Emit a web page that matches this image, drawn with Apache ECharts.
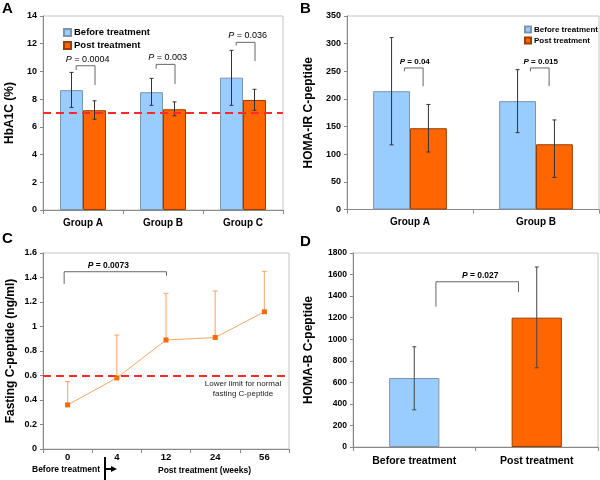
<!DOCTYPE html>
<html><head><meta charset="utf-8">
<script src="https://cdn.jsdelivr.net/npm/echarts@6/dist/echarts.min.js"></script>
<style>html,body{margin:0;padding:0;background:#fff}#c{width:600px;height:480px}</style>
</head><body><div id="c"></div>
<script>
// ---------- Panel A: HbA1C ----------
const groupsA = ['Group A', 'Group B', 'Group C'];
const hbBefore = [8.65, 8.5, 9.55];
const hbBeforeLow = [7.4, 7.55, 7.55];
const hbBeforeHigh = [9.93, 9.5, 11.52];
const hbPost = [7.2, 7.27, 7.94];
const hbPostLow = [6.55, 6.8, 7.2];
const hbPostHigh = [7.88, 7.8, 8.71];
const hbTarget = 7;
const hbPLabels = ['0.0004', '0.003', '0.036'];
const hbBracketTop = [10.41, 10.51, 12.1];
const hbBracketLeftEnd = [10.1, 10.2, 11.86];
const hbBracketRightEnd = [9.02, 9.1, 10.75];

// ---------- Panel B: HOMA-IR ----------
const groupsB = ['Group A', 'Group B'];
const irBefore = [214, 196];
const irBeforeLow = [117, 139];
const irBeforeHigh = [311, 253];
const irPost = [147, 118];
const irPostLow = [104, 58];
const irPostHigh = [190, 162];
const irPLabels = ['0.04', '0.015'];
const irBracketTop = [256, 256];
const irBracketLeftEnd = [250, 250];
const irBracketRightEnd = [223, 223];

// ---------- Panel C: fasting C-peptide ----------
const weeks = ['0', '4', '12', '24', '56'];
const cpep = [0.36, 0.58, 0.89, 0.91, 1.12];
const cpepHigh = [0.55, 0.93, 1.27, 1.29, 1.45];
const cpepLimit = 0.6;
const cpepPLabel = '0.0073';
const cpepBracket = [0, 2, 1.447, 1.347, 1.415]; // from cat, to cat, top, left end, right end

// ---------- Panel D: HOMA-B ----------
const phasesD = ['Before treatment', 'Post treatment'];
const homaB = [640, 1200];
const homaBLow = [345, 735];
const homaBHigh = [930, 1670];
const homaBPLabel = '0.027';
const homaBBracket = [0, 1, 1533, 1303, 1437];

// ---------- styles ----------
const FONT = 'Liberation Sans, Arial, sans-serif';
const BLUE = '#99CCFF', BLUE_B = '#8193aa';
const ORANGE = '#FF6600', ORANGE_B = '#9a3d00';
const AXIS = '#888';

function errSeries(xi, lows, highs, shift, cap, color, width, bottomCap) {
  return {
    type: 'custom', xAxisIndex: xi, yAxisIndex: xi, z: 5, silent: true,
    data: lows.map((l, i) => [i, l, highs[i]]),
    encode: { x: 0, y: [1, 2] },
    renderItem: function (params, api) {
      const band = api.size([1, 0])[0];
      const x = api.coord([api.value(0), 0])[0] + shift * band;
      const yl = api.coord([api.value(0), api.value(1)])[1];
      const yh = api.coord([api.value(0), api.value(2)])[1];
      const st = { stroke: color, lineWidth: width };
      const ch = [
        { type: 'line', shape: { x1: x, y1: yl, x2: x, y2: yh }, style: st },
        { type: 'line', shape: { x1: x - cap, y1: yh, x2: x + cap, y2: yh }, style: st }
      ];
      if (bottomCap) ch.push({ type: 'line', shape: { x1: x - cap, y1: yl, x2: x + cap, y2: yl }, style: st });
      return { type: 'group', children: ch };
    }
  };
}

function bracketSeries(xi, rows, labels, offL, offR, labelDx, bold, fs) {
  return {
    type: 'custom', xAxisIndex: xi, yAxisIndex: xi, z: 6, silent: true,
    data: rows,
    encode: { x: [0, 1], y: [2, 3, 4] },
    renderItem: function (params, api) {
      const band = api.size([1, 0])[0];
      const xL = api.coord([api.value(0), 0])[0] + offL * band;
      const xR = api.coord([api.value(1), 0])[0] + offR * band;
      const yT = api.coord([0, api.value(2)])[1];
      const yLE = api.coord([0, api.value(3)])[1];
      const yRE = api.coord([0, api.value(4)])[1];
      const w = bold ? 'bold' : 'normal';
      return {
        type: 'group', children: [
          { type: 'polyline', shape: { points: [[xL, yLE], [xL, yT], [xR, yT], [xR, yRE]] },
            style: { stroke: '#666', lineWidth: 1, fill: null } },
          { type: 'text', style: {
              text: '{i|P} = ' + labels[params.dataIndex],
              x: (xL + xR) / 2 + labelDx, y: yT - 2,
              align: 'center', verticalAlign: 'bottom',
              fontSize: fs, fontFamily: FONT, fontWeight: w, fill: '#000',
              rich: { i: { fontStyle: 'italic', fontSize: fs, fontFamily: FONT, fontWeight: w, fill: '#000' } }
            } }
        ]
      };
    }
  };
}

function yAx(gi, min, max, interval, name, gap, fs) {
  return {
    type: 'value', gridIndex: gi, min: min, max: max, interval: interval,
    name: name, nameLocation: 'middle', nameGap: gap,
    nameTextStyle: { fontSize: 12, fontWeight: 'bold', fontFamily: FONT, color: '#000' },
    axisLine: { show: true, lineStyle: { color: AXIS } },
    axisTick: { show: true, length: 3, lineStyle: { color: AXIS } },
    splitLine: { show: false },
    axisLabel: { fontSize: fs, fontWeight: 'bold', fontFamily: FONT, color: '#000', margin: 6,
      formatter: function (v) { return String(Math.round(v * 1000) / 1000); } }
  };
}
function xAx(gi, cats, fs, margin) {
  return {
    type: 'category', gridIndex: gi, data: cats,
    axisLine: { lineStyle: { color: AXIS } },
    axisTick: { show: true, length: 4, alignWithLabel: false, lineStyle: { color: AXIS } },
    axisLabel: { fontSize: fs, fontWeight: 'bold', fontFamily: FONT, color: '#000', margin: margin, interval: 0 }
  };
}
const gridStyle = { show: true, borderColor: '#c4c4c4', borderWidth: 1, containLabel: false };
const dashed = { color: '#ff2a2a', type: [8, 5], width: 2 };

const barShiftA = 0.575 / 4, barShiftB = 0.585 / 4;

const chart = echarts.init(document.getElementById('c'), null, { renderer: 'canvas' });
chart.setOption({
  animation: false,
  grid: [
    Object.assign({ left: 43, top: 16, width: 240, height: 194 }, gridStyle),
    Object.assign({ left: 347, top: 16, width: 252, height: 193.5 }, gridStyle),
    Object.assign({ left: 43, top: 253, width: 246, height: 196 }, gridStyle),
    Object.assign({ left: 353, top: 253, width: 245, height: 194 }, gridStyle)
  ],
  xAxis: [
    xAx(0, groupsA, 10, 8),
    xAx(1, groupsB, 10, 8),
    xAx(2, weeks, 9.5, 3),
    xAx(3, phasesD, 10.5, 9)
  ],
  yAxis: [
    yAx(0, 0, 14, 2, 'HbA1C (%)', 27, 9),
    yAx(1, 0, 350, 50, 'HOMA-IR C-peptide', 32, 9),
    yAx(2, 0, 1.6, 0.2, 'Fasting C-peptide (ng/ml)', 26, 9),
    yAx(3, 0, 1800, 200, 'HOMA-B C-peptide', 38, 8.5)
  ],
  legend: [
    { data: ['Before treatment', 'Post treatment'], orient: 'vertical', left: 58, top: 22,
      itemWidth: 7, itemHeight: 7, itemGap: 2, icon: 'rect',
      textStyle: { fontSize: 9.5, fontWeight: 'bold', fontFamily: FONT, color: '#000', lineHeight: 11, padding: [0, 0, 0, -2] } },
    { data: ['Before treatment', 'Post treatment'], orient: 'vertical', left: 519, top: 20,
      itemWidth: 6, itemHeight: 6, itemGap: 2, icon: 'rect',
      textStyle: { fontSize: 8, fontWeight: 'bold', fontFamily: FONT, color: '#000', lineHeight: 9, padding: [0, 0, 0, -2] } }
  ],
  graphic: [
    { type: 'text', left: 2, top: 1, style: { text: 'A', fontSize: 15, fontWeight: 'bold', fontFamily: FONT, fill: '#000' } },
    { type: 'text', left: 300, top: 1, style: { text: 'B', fontSize: 15, fontWeight: 'bold', fontFamily: FONT, fill: '#000' } },
    { type: 'text', left: 2, top: 231, style: { text: 'C', fontSize: 15, fontWeight: 'bold', fontFamily: FONT, fill: '#000' } },
    { type: 'text', left: 300, top: 234, style: { text: 'D', fontSize: 15, fontWeight: 'bold', fontFamily: FONT, fill: '#000' } },
    { type: 'text', left: 32, top: 465, style: { text: 'Before treatment', fontSize: 8.5, fontWeight: 'bold', fontFamily: FONT, fill: '#000' } },
    { type: 'line', shape: { x1: 105, y1: 457, x2: 105, y2: 480 }, style: { stroke: '#000', lineWidth: 2 } },
    { type: 'line', shape: { x1: 105, y1: 469, x2: 112, y2: 469 }, style: { stroke: '#000', lineWidth: 2 } },
    { type: 'polygon', shape: { points: [[111, 466], [117, 469], [111, 472]] }, style: { fill: '#000' } },
    { type: 'text', left: 158, top: 466, style: { text: 'Post treatment (weeks)', fontSize: 8.5, fontWeight: 'bold', fontFamily: FONT, fill: '#000' } }
  ],
  series: [
    // A
    { name: 'Before treatment', type: 'bar', xAxisIndex: 0, yAxisIndex: 0, data: hbBefore,
      barGap: 0, barCategoryGap: '42.5%',
      itemStyle: { color: BLUE, borderColor: BLUE_B, borderWidth: 1 },
      markLine: { silent: true, symbol: 'none', data: [{ yAxis: hbTarget }], lineStyle: dashed, label: { show: false }, z: 7 } },
    { name: 'Post treatment', type: 'bar', xAxisIndex: 0, yAxisIndex: 0, data: hbPost,
      barGap: 0, barCategoryGap: '42.5%',
      itemStyle: { color: ORANGE, borderColor: ORANGE_B, borderWidth: 1 } },
    errSeries(0, hbBeforeLow, hbBeforeHigh, -barShiftA, 2, '#333', 1, true),
    errSeries(0, hbPostLow, hbPostHigh, barShiftA, 2, '#333', 1, true),
    bracketSeries(0, groupsA.map((g, i) => [i, i, hbBracketTop[i], hbBracketLeftEnd[i], hbBracketRightEnd[i]]),
      hbPLabels, -0.085, 0.15, 2, false, 9),
    // B
    { name: 'Before treatment', type: 'bar', xAxisIndex: 1, yAxisIndex: 1, data: irBefore,
      barGap: 0, barCategoryGap: '41.5%',
      itemStyle: { color: BLUE, borderColor: BLUE_B, borderWidth: 1 } },
    { name: 'Post treatment', type: 'bar', xAxisIndex: 1, yAxisIndex: 1, data: irPost,
      barGap: 0, barCategoryGap: '41.5%',
      itemStyle: { color: ORANGE, borderColor: ORANGE_B, borderWidth: 1 } },
    errSeries(1, irBeforeLow, irBeforeHigh, -barShiftB, 2, '#333', 1, true),
    errSeries(1, irPostLow, irPostHigh, barShiftB, 2, '#333', 1, true),
    bracketSeries(1, groupsB.map((g, i) => [i, i, irBracketTop[i], irBracketLeftEnd[i], irBracketRightEnd[i]]),
      irPLabels, -0.044, 0.104, 1, true, 8),
    // C
    { name: 'Fasting C-peptide', type: 'line', xAxisIndex: 2, yAxisIndex: 2, data: cpep,
      symbol: 'rect', symbolSize: 5, z: 6,
      lineStyle: { color: '#f9a564', width: 1 }, itemStyle: { color: '#ff6a00' },
      markLine: { silent: true, symbol: 'none', data: [{ yAxis: cpepLimit }], lineStyle: dashed,
        label: { show: true, position: 'insideEndBottom', distance: [8, 3],
          formatter: '{a|Lower limit for normal}\n{a|fasting C-peptide}',
          rich: { a: { fontSize: 8, fontFamily: FONT, color: '#222', width: 76, align: 'center', lineHeight: 10 } } } } },
    errSeries(2, cpep, cpepHigh, 0, 2.5, '#f9b17d', 1.2, false),
    bracketSeries(2, [cpepBracket], [cpepPLabel], -0.07, 0.01, -7, true, 8.5),
    // D
    { name: 'HOMA-B', type: 'bar', xAxisIndex: 3, yAxisIndex: 3, barCategoryGap: '59%',
      data: homaB.map((v, i) => ({ value: v, itemStyle: i === 0
        ? { color: BLUE, borderColor: BLUE_B, borderWidth: 1 }
        : { color: ORANGE, borderColor: ORANGE_B, borderWidth: 1 } })) },
    errSeries(3, homaBLow, homaBHigh, 0, 2, '#444', 1, true),
    bracketSeries(3, [homaBBracket], [homaBPLabel], 0.177, -0.149, 3, true, 8.5)
  ]
});
</script>
</body></html>
